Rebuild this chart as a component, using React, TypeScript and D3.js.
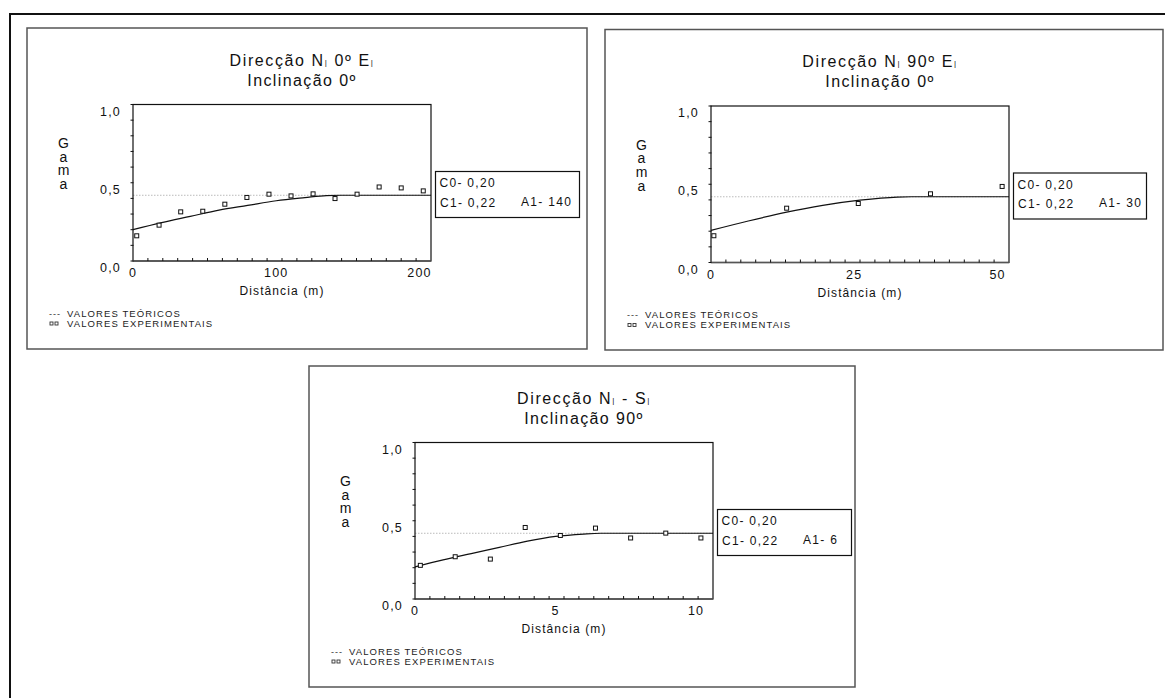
import React from "react";
import * as d3 from "d3";

// ---------- data ----------
const directionNames = [
  ["N", " 0º E"],
  ["N", " 90º E"],
  ["N", " - S"],
];
const inclinations = ["Inclinação 0º", "Inclinação 0º", "Inclinação 90º"];
const xMaxes = [208, 52, 10.6];
const xTickLabels = [
  [0, 100, 200],
  [0, 25, 50],
  [0, 5, 10],
];
const yTickLabels = [0, 0.5, 1.0];
const yMinorTicks = [0, 0.1, 0.2, 0.3, 0.4, 0.5, 0.6, 0.7, 0.8, 0.9, 1.0];
const xMinorCount = 20;
const sill = 0.42;
const c0Labels = ["0,20", "0,20", "0,20"];
const c1Labels = ["0,22", "0,22", "0,22"];
const a1Labels = ["140", "30", "6"];

// experimental values (distance, gamma)
const exp1X = [2.6, 18.2, 33.3, 48.7, 64.1, 79.5, 94.9, 110.3, 125.7, 141, 156.4, 171.8, 187.2, 202.6];
const exp1Y = [0.161, 0.229, 0.314, 0.318, 0.363, 0.406, 0.427, 0.416, 0.429, 0.399, 0.427, 0.473, 0.467, 0.448];
const exp2X = [0.5, 13.2, 25.7, 38.3, 50.8];
const exp2Y = [0.171, 0.347, 0.377, 0.439, 0.486];
const exp3X = [0.19, 1.43, 2.68, 3.92, 5.17, 6.42, 7.67, 8.92, 10.17];
const exp3Y = [0.215, 0.27, 0.255, 0.457, 0.406, 0.453, 0.39, 0.421, 0.39];

// theoretical curve (distance, gamma)
const th1X = [0, 20, 40, 60, 80, 100, 120, 135, 145, 208];
const th1Y = [0.2, 0.245, 0.285, 0.325, 0.355, 0.385, 0.405, 0.418, 0.42, 0.42];
const th2X = [0, 6.5, 13, 19.5, 26, 32.5, 35, 52];
const th2Y = [0.205, 0.265, 0.32, 0.365, 0.398, 0.418, 0.42, 0.42];
const th3X = [0, 1, 2, 3, 4, 5, 6, 6.6, 10.6];
const th3Y = [0.205, 0.25, 0.29, 0.33, 0.37, 0.4, 0.415, 0.42, 0.42];

const expX = [exp1X, exp2X, exp3X];
const expY = [exp1Y, exp2Y, exp3Y];
const thX = [th1X, th2X, th3X];
const thY = [th1Y, th2Y, th3Y];

// ---------- layout ----------
const layouts = [
  { x: 27, y: 28, w: 560, h: 321, boxW: 144 },
  { x: 605, y: 29.5, w: 558, h: 320.5, boxW: 133 },
  { x: 309, y: 366, w: 546, h: 321, boxW: 134 },
];
const PLOT_W = 298;
const PLOT_H = 156.5;
const FONT = "'Liberation Sans', Arial, Helvetica, sans-serif";

const fmt = (v: number) => d3.format(".1f")(v).replace(".", ",");

function Panel({ i }: { i: number }) {
  const L = layouts[i];
  const px0 = L.x + 106;
  const py0 = L.y + 76.5;
  const x = d3.scaleLinear().domain([0, xMaxes[i]]).range([px0, px0 + PLOT_W]);
  const y = d3.scaleLinear().domain([0, 1]).range([py0 + PLOT_H, py0]);
  const bottom = py0 + PLOT_H;
  const xt = d3.range(1, xMinorCount).map((k) => (k * xMaxes[i]) / xMinorCount);
  const curvePts: [number, number][] = thX[i].map((v, k) => [v, thY[i][k]]);
  const line = d3
    .line<[number, number]>()
    .x((d) => x(d[0]))
    .y((d) => y(d[1]))
    .curve(d3.curveMonotoneX);
  const tcx = px0 + PLOT_W / 2 + 20;
  const boxL = px0 + PLOT_W + 4.5;
  const boxT = py0 + 67;
  const [n, rest] = directionNames[i];
  const gx = px0 - 69.5;
  return (
    <g fontFamily={FONT}>
      <rect x={L.x} y={L.y} width={L.w} height={L.h} fill="white" stroke="#555" strokeWidth={1.5} />
      {/* title */}
      <text x={tcx} y={py0 - 39} textAnchor="middle" fontSize={16} letterSpacing={1.6} fill="#111">
        {"Direcção " + n}
        <tspan fontSize={8} dy={-1}>|</tspan>
        <tspan dy={1}>{rest}</tspan>
        <tspan fontSize={8} dy={-1}>|</tspan>
      </text>
      <text x={tcx} y={py0 - 19} textAnchor="middle" fontSize={16} letterSpacing={1.4} fill="#111">
        {inclinations[i]}
      </text>
      {/* Gama (stacked letters, vertical writing) */}
      <text
        x={gx}
        y={py0 + 30.5}
        fontSize={14}
        letterSpacing={-2.3}
        fill="#111"
        style={{ writingMode: "vertical-rl", textOrientation: "upright" } as React.CSSProperties}
      >
        Gama
      </text>
      {/* sill dotted line */}
      <line x1={x(0)} x2={x(xMaxes[i])} y1={y(sill)} y2={y(sill)} stroke="#aaa" strokeWidth={0.8} strokeDasharray="1.5,1.5" />
      {/* plot frame */}
      <rect x={px0} y={py0} width={PLOT_W} height={PLOT_H} fill="none" stroke="#111" strokeWidth={1.2} />
      <line x1={px0} x2={px0 + PLOT_W} y1={bottom} y2={bottom} stroke="#555" strokeWidth={1.6} />
      {/* y ticks */}
      {yMinorTicks.map((v, k) => (
        <line key={k} x1={px0 - 2.5} x2={px0 + 0.5} y1={y(v)} y2={y(v)} stroke="#111" strokeWidth={1} />
      ))}
      {yTickLabels.map((v, k) => (
        <text key={k} x={px0 - 12} y={y(v) + 11} textAnchor="end" fontSize={12.5} letterSpacing={1.2} fill="#111">
          {fmt(v)}
        </text>
      ))}
      {/* x ticks */}
      {xt.map((v, k) => (
        <line key={k} x1={x(v)} x2={x(v)} y1={bottom} y2={bottom - 3} stroke="#111" strokeWidth={1} />
      ))}
      {xTickLabels[i].map((v, k) => (
        <text key={k} x={x(v)} y={bottom + 16} textAnchor="middle" fontSize={12.5} letterSpacing={1.2} fill="#111">
          {String(v)}
        </text>
      ))}
      <text x={px0 + PLOT_W / 2} y={bottom + 34} textAnchor="middle" fontSize={12} letterSpacing={1.1} fill="#111">
        Distância (m)
      </text>
      {/* theoretical curve */}
      <path d={line(curvePts) || ""} fill="none" stroke="#111" strokeWidth={1.2} />
      {/* experimental points */}
      {expX[i].map((v, k) => (
        <rect
          key={k}
          x={x(v) - 2}
          y={y(expY[i][k]) - 2}
          width={4}
          height={4}
          fill="white"
          stroke="#111"
          strokeWidth={1}
        />
      ))}
      {/* parameter box */}
      <rect x={boxL} y={boxT} width={L.boxW} height={46} fill="white" stroke="#111" strokeWidth={1.2} />
      <text x={boxL + 4} y={boxT + 15.5} fontSize={12} letterSpacing={1.3} fill="#111">
        {"C0- " + c0Labels[i]}
      </text>
      <text x={boxL + 4.5} y={boxT + 35} fontSize={12} letterSpacing={1.3} fill="#111">
        {"C1- " + c1Labels[i]}
      </text>
      <text x={boxL + 85.5} y={boxT + 34} fontSize={12} letterSpacing={1.3} fill="#111">
        {"A1- " + a1Labels[i]}
      </text>
      {/* legend */}
      <text x={L.x + 22} y={L.y + 288.5} fontSize={9} letterSpacing={1} fill="#333">
        ---
      </text>
      <text x={L.x + 40} y={L.y + 288.5} fontSize={9.5} letterSpacing={1.1} fill="#222">
        VALORES TEÓRICOS
      </text>
      <rect x={L.x + 23} y={L.y + 294} width={3} height={3} fill="none" stroke="#333" strokeWidth={0.9} />
      <rect x={L.x + 28} y={L.y + 294} width={3} height={3} fill="none" stroke="#333" strokeWidth={0.9} />
      <text x={L.x + 40} y={L.y + 298.5} fontSize={9.5} letterSpacing={1.1} fill="#222">
        VALORES EXPERIMENTAIS
      </text>
    </g>
  );
}

export default function App() {
  return (
    <svg
      width={1165}
      height={698}
      style={{ position: "absolute", left: 0, top: 0, background: "white" }}
    >
      <rect x={0} y={0} width={1165} height={698} fill="white" />
      <rect x={10} y={14} width={1200} height={720} fill="none" stroke="#111" strokeWidth={2} />
      {[0, 1, 2].map((i) => (
        <Panel key={i} i={i} />
      ))}
    </svg>
  );
}
